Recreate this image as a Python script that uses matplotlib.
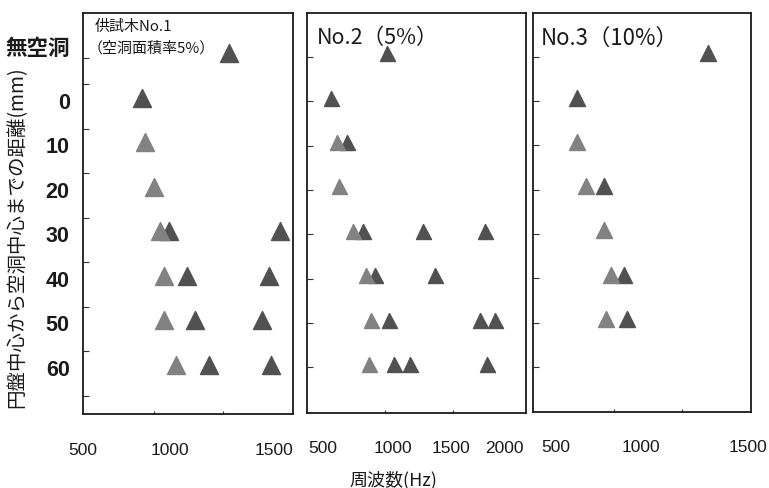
import matplotlib
matplotlib.use("Agg")
import matplotlib.pyplot as plt
import matplotlib.transforms as mtransforms
from matplotlib.markers import MarkerStyle

plt.rcParams['font.family'] = ['Noto Sans CJK JP', 'DejaVu Sans']

# ---- data ----
rows = ['無空洞', '0', '10', '20', '30', '40', '50', '60']

p1_dark_row = ['無空洞', '0', '30', '30', '40', '40', '50', '50', '60', '60']
p1_dark_hz = [1544, 914, 1108, 1915, 1239, 1836, 1301, 1786, 1400, 1851]
p1_light_row = ['10', '20', '30', '40', '50', '60']
p1_light_hz = [931, 998, 1042, 1076, 1076, 1158]

p2_dark_row = ['無空洞', '0', '10', '30', '30', '30', '40', '40', '50', '50', '50', '60', '60', '60']
p2_dark_hz = [1017, 601, 719, 836, 1283, 1737, 924, 1369, 1033, 1702, 1807, 1068, 1184, 1749]
p2_light_row = ['10', '20', '30', '40', '50', '60']
p2_light_hz = [646, 663, 763, 864, 899, 882]

p3_dark_row = ['無空洞', '0', '20', '40', '50']
p3_dark_hz = [1692, 734, 929, 1073, 1099]
p3_light_row = ['10', '20', '30', '40', '50']
p3_light_hz = [731, 796, 929, 978, 947]

p1_xlabels = ['500', '1000', '1500']
p2_xlabels = ['500', '1000', '1500', '2000']
p3_xlabels = ['500', '1000', '1500']

titles = [['供試木No.1', '（空洞面積率5%）'], ['No.2（5%）'], ['No.3（10%）']]
xlabel = '周波数(Hz)'
ylabel = '円盤中心から空洞中心までの距離(mm)'

# ---- style / layout ----
dark = '#515151'
light = '#828282'
ink = '#1a1a1a'

fig = plt.figure(figsize=(7.69, 4.88), dpi=100)

positions = [
    [82.7 / 769, (488 - 414) / 488, 210.6 / 769, 401 / 488],
    [307.3 / 769, (488 - 412.7) / 488, 218.7 / 769, 399.4 / 488],
    [533.3 / 769, (488 - 412) / 488, 217.7 / 769, 398.7 / 488],
]
xlims = [(481, 2014), (429, 2037), (413, 2004)]
msizes = [12.5, 10.8, 11.2]
label_fracs = [[0.0, 0.413, 0.907], [0.0695, 0.390, 0.658, 0.899], [0.103, 0.494, 0.984]]
xlabel_lists = [p1_xlabels, p2_xlabels, p3_xlabels]
data = [
    (p1_dark_row, p1_dark_hz, p1_light_row, p1_light_hz),
    (p2_dark_row, p2_dark_hz, p2_light_row, p2_light_hz),
    (p3_dark_row, p3_dark_hz, p3_light_row, p3_light_hz),
]
ytick_sets = [
    [0.10] + [k + 0.69 for k in range(len(rows))],
    [k + 0.08 for k in range(len(rows))],
    [k + 0.08 for k in range(len(rows))],
]

tri = MarkerStyle('^', joinstyle='round')

axes = []
for i in range(3):
    ax = fig.add_axes(positions[i])
    axes.append(ax)
    d_row, d_hz, l_row, l_hz = data[i]
    d_y = [rows.index(r) for r in d_row]
    l_y = [rows.index(r) for r in l_row]
    ms = msizes[i]
    ax.plot(d_hz, d_y, linestyle='none', marker=tri, markersize=ms,
            markeredgecolor=dark, markeredgewidth=1.0,
            markerfacecolor=dark, zorder=3)
    ax.plot(l_hz, l_y, linestyle='none', marker=tri, markersize=ms,
            markeredgecolor=light, markeredgewidth=1.0,
            markerfacecolor=light, zorder=4)

    ax.set_xlim(*xlims[i])
    ax.set_ylim(8.10, -0.905)
    ax.set_xticks([1000, 1500])
    ax.set_xticklabels(['', ''])
    ax.set_yticks(ytick_sets[i])
    ax.set_yticklabels([''] * len(ytick_sets[i]))
    ax.tick_params(axis='y', direction='in', length=4.5, width=0.8, color='#333333')
    ax.tick_params(axis='x', direction='in', length=2.5, width=0.8, color='#333333')
    for sp in ax.spines.values():
        sp.set_linewidth(1.3)
        sp.set_color(ink)

    for lab, fx in zip(xlabel_lists[i], label_fracs[i]):
        ax.text(fx, -0.09, lab, transform=ax.transAxes, ha='center', va='center',
                fontsize=12.5, family=['Liberation Sans', 'DejaVu Sans'], color=ink)

# panel titles
axes[0].text((95 - 82.7) / 210.6, 1 - (27 - 13) / 401, titles[0][0], transform=axes[0].transAxes,
             ha='left', va='center', fontsize=10.8, color=ink)
axes[0].text((88 - 82.7) / 210.6, 1 - (48.5 - 13) / 401, titles[0][1], transform=axes[0].transAxes,
             ha='left', va='center', fontsize=10.8, color=ink)
axes[1].text((317 - 307.3) / 218.7, 1 - (38 - 13.3) / 399.4, titles[1][0], transform=axes[1].transAxes,
             ha='left', va='center', fontsize=15.5, color=ink)
axes[2].text((541 - 533.3) / 217.7, 1 - (38 - 13.3) / 398.7, titles[2][0], transform=axes[2].transAxes,
             ha='left', va='center', fontsize=16, color=ink)

# row labels (left of first panel)
trans = mtransforms.blended_transform_factory(axes[0].transAxes, axes[0].transData)
for k, r in enumerate(rows):
    yy = k + 0.12 if k > 0 else -0.11
    fam = ['Liberation Sans', 'DejaVu Sans'] if k > 0 else ['Noto Sans CJK JP', 'DejaVu Sans']
    axes[0].text(-0.062, yy, r, transform=trans, ha='right', va='center',
                 fontsize=15.5, fontweight='bold', family=fam, color=ink)

fig.text(17 / 769, 1 - 237 / 488, ylabel, rotation=90, ha='center', va='center',
         fontsize=14, color=ink)
fig.text(393 / 769, 1 - 480 / 488, xlabel, ha='center', va='center', fontsize=13,
         color=ink)

fig.savefig('out.png', dpi=100)
